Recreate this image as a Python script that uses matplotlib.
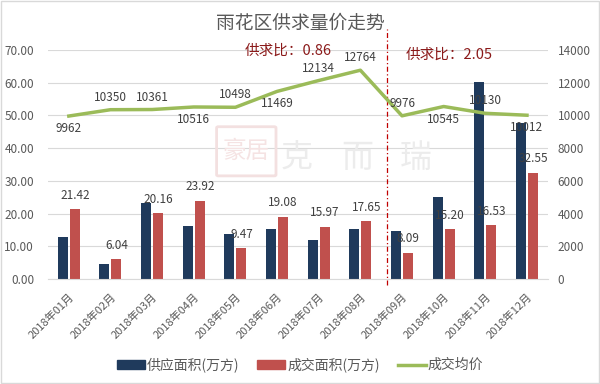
import numpy as np
import matplotlib.pyplot as plt
from matplotlib.patches import Rectangle, FancyBboxPatch, Patch
from matplotlib.lines import Line2D

plt.rcParams['font.family'] = ['Noto Sans CJK SC', 'DejaVu Sans']

months = ['2018年01月', '2018年02月', '2018年03月', '2018年04月', '2018年05月', '2018年06月',
          '2018年07月', '2018年08月', '2018年09月', '2018年10月', '2018年11月', '2018年12月']
supply = [12.9, 4.6, 23.2, 16.2, 13.8, 15.3, 11.9, 15.3, 14.7, 25.1, 60.3, 47.7]
deal = [21.42, 6.04, 20.16, 23.92, 9.47, 19.08, 15.97, 17.65, 8.09, 15.20, 16.53, 32.55]
price = [9962, 10350, 10361, 10516, 10498, 11469, 12134, 12764, 9976, 10545, 10130, 10012]
# label above (1) or below (-1) the line point
price_pos = [-1, 1, 1, -1, 1, -1, 1, 1, 1, -1, 1, -1]

c_blue = '#1f3a5c'
c_red = '#c0504d'
c_green = '#9bbb59'
c_text = '#404040'
c_tick = '#595959'
c_note = '#8b1a1a'

fig = plt.figure(figsize=(6, 3.84), dpi=100)

# faint watermark behind the chart
for wx, ch in zip([0.495, 0.595, 0.693], ['克', '而', '瑞']):
    fig.text(wx, 0.589, ch, ha='center', va='center', fontsize=23, color='#ececec', zorder=0)
fig.patches.append(FancyBboxPatch((0.364, 0.545), 0.093, 0.122, transform=fig.transFigure,
                                  boxstyle='round,pad=0.003', fill=False, edgecolor='#f3e0e0',
                                  linewidth=2, zorder=0))
fig.text(0.41, 0.606, '豪居', ha='center', va='center', fontsize=17, color='#f5e3e3', zorder=0)

ax = fig.add_axes([0.08, 0.2734, 0.833, 0.5964])
ax.patch.set_alpha(0)
ax2 = ax.twinx()

x = np.arange(len(months))
w = 0.24
ax.bar(x - 0.144, supply, w, color=c_blue, zorder=2)
ax.bar(x + 0.144, deal, w, color=c_red, zorder=2)
for i, v in enumerate(deal):
    ax.annotate(f'{v:.2f}', (x[i] + 0.144, v), xytext=(0, 10), textcoords='offset points',
                ha='center', va='center', fontsize=8.5, color=c_text, zorder=5)

ax.set_ylim(0, 70)
ax.set_yticks(np.arange(0, 71, 10))
ax.set_yticklabels([f'{t:.2f}' for t in np.arange(0, 71, 10)])
ax.set_xlim(-0.5, 11.5)
ax.set_xticks(x)
ax.set_xticklabels(months, rotation=45, ha='right', rotation_mode='anchor', fontsize=8, color=c_tick)
ax.grid(axis='y', color='#d9d9d9', linewidth=0.8, zorder=0)
ax.set_axisbelow(True)
for s in ['top', 'right', 'left']:
    ax.spines[s].set_visible(False)
ax.spines['bottom'].set_color('#d9d9d9')
ax.tick_params(axis='y', length=0, labelsize=8.5, labelcolor=c_tick, pad=10)
ax.tick_params(axis='x', length=0, pad=9)

ax2.plot(x, price, color=c_green, linewidth=2.5, zorder=3)
ax2.set_ylim(0, 14000)
ax2.set_yticks(np.arange(0, 14001, 2000))
for s in ['top', 'right', 'left', 'bottom']:
    ax2.spines[s].set_visible(False)
ax2.tick_params(axis='y', length=0, labelsize=8.5, labelcolor=c_tick, pad=7)
for i, v in enumerate(price):
    off = 9 if price_pos[i] > 0 else -9
    ax2.annotate(str(v), (x[i], v), xytext=(0, off), textcoords='offset points',
                 ha='center', va='center', fontsize=8.5, color=c_text, zorder=6)

# divider between Aug and Sep
ax.axvline(7.63, ymin=-0.026, ymax=1.09, color='#c00000', linestyle=(0, (4, 2, 1, 2)),
           linewidth=0.9, clip_on=False, zorder=4)

fig.text(0.5, 0.94, '雨花区供求量价走势', ha='center', va='center', fontsize=13.5, color='#595959')
fig.text(0.408, 0.868, '供求比：0.86', ha='left', va='center', fontsize=10.5, color=c_note)
fig.text(0.676, 0.857, '供求比：2.05', ha='left', va='center', fontsize=10.5, color=c_note)

handles = [Patch(color=c_blue), Patch(color=c_red), Line2D([0], [0], color=c_green, linewidth=2.5)]
fig.legend(handles, ['供应面积(万方)', '成交面积(万方)', '成交均价'], loc='center',
           bbox_to_anchor=(0.5, 0.05), ncol=3, frameon=False, fontsize=10,
           handlelength=2.0, handleheight=0.55, handletextpad=0.15, columnspacing=1.3,
           labelcolor=c_tick)

fig.patches.append(Rectangle((0.002, 0.003), 0.996, 0.994, transform=fig.transFigure,
                             fill=False, edgecolor='#d9d9d9', linewidth=1))

fig.savefig('out.png', dpi=100)
